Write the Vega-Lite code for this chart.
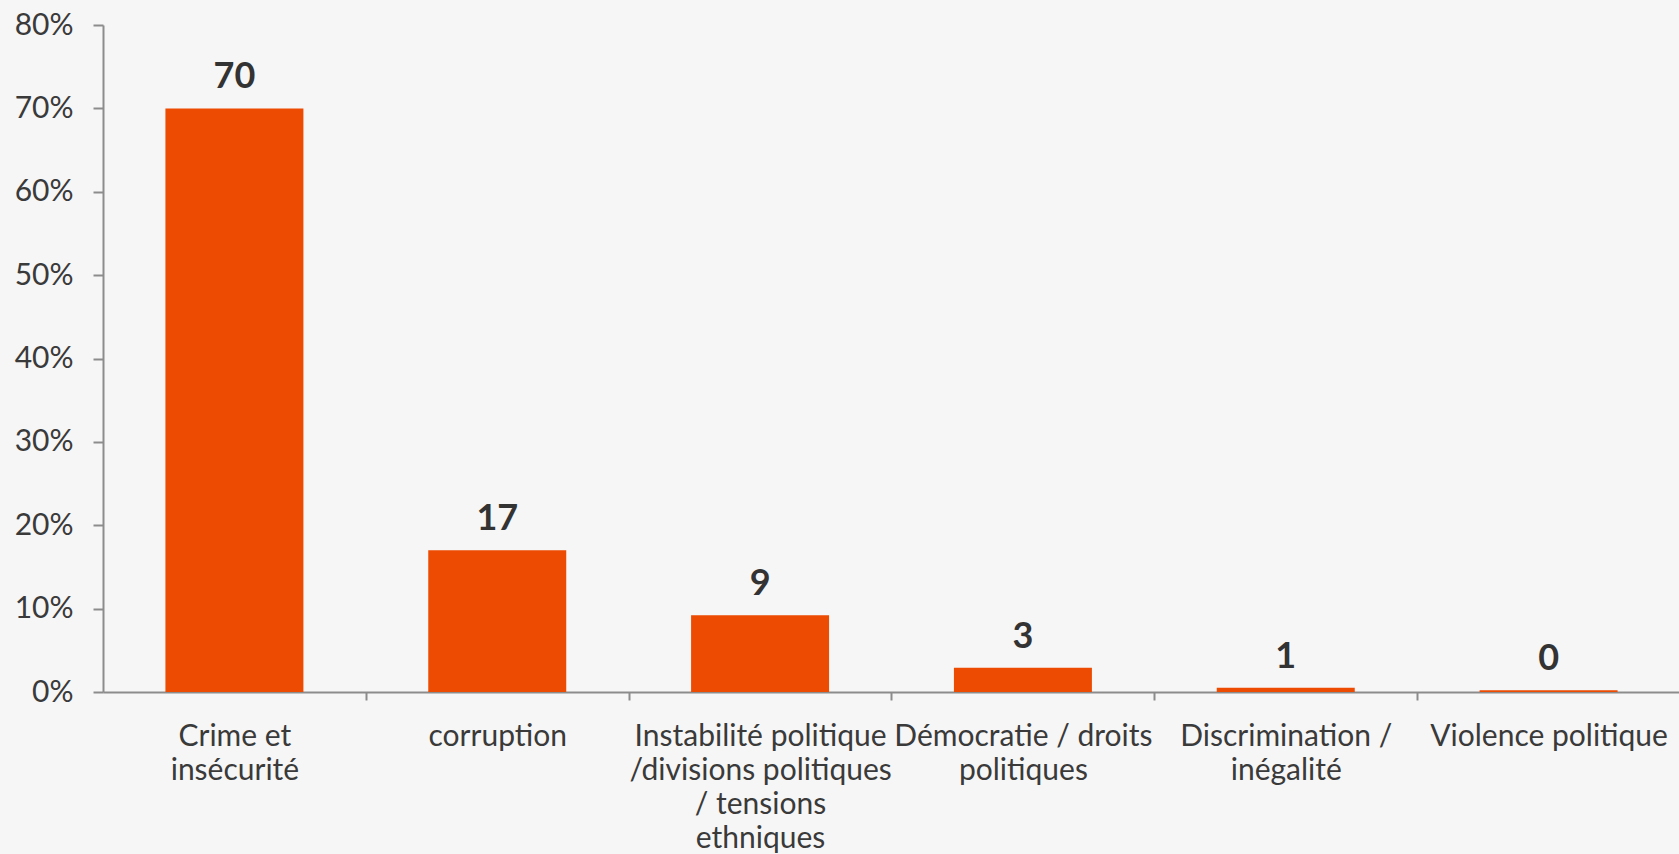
{
  "$schema": "https://vega.github.io/schema/vega-lite/v6.json",
  "width": 1577,
  "height": 667,
  "autosize": {"type": "none"},
  "padding": {"left": 103, "top": 25, "right": 0, "bottom": 162},
  "background": "#f6f6f6",
  "config": {
    "view": {"stroke": null},
    "font": "Lato"
  },
  "data": {
    "values": [
      {"cat": "Crime  et|insécurité", "value": 70, "label": "70"},
      {"cat": "corruption", "value": 17, "label": "17"},
      {"cat": "Instabilité politique|/divisions politiques|/ tensions|ethniques", "value": 9.2, "label": "9"},
      {"cat": "Démocratie / droits|politiques", "value": 2.9, "label": "3"},
      {"cat": "Discrimination /|inégalité", "value": 0.5, "label": "1"},
      {"cat": "Violence politique", "value": 0.2, "label": "0"}
    ]
  },
  "encoding": {
    "x": {
      "field": "cat",
      "type": "nominal",
      "sort": null,
      "scale": {"paddingInner": 0.475, "paddingOuter": 0.2375},
      "axis": {
        "title": null,
        "labelAngle": 0,
        "labelExpr": "split(datum.label, '|')",
        "labelFont": "Lato",
        "labelFontSize": 30,
        "labelColor": "#3a3a3a",
        "labelLineHeight": 34,
        "labelPadding": 21,
        "labelBaseline": "top",
        "domainColor": "#8c8c8c",
        "domainWidth": 2,
        "tickColor": "#8c8c8c",
        "tickWidth": 2,
        "tickSize": 8,
        "tickOffset": 131.4,
        "labelOffset": -131.4,
        "labelLimit": 400
      }
    },
    "y": {
      "field": "value",
      "type": "quantitative",
      "scale": {"domain": [0, 80], "nice": false},
      "axis": {
        "title": null,
        "values": [0, 10, 20, 30, 40, 50, 60, 70, 80],
        "labelExpr": "datum.value + '%'",
        "labelFont": "Lato",
        "labelFontSize": 30,
        "labelColor": "#3a3a3a",
        "labelPadding": 20,
        "grid": false,
        "domainColor": "#8c8c8c",
        "domainWidth": 2,
        "tickColor": "#8c8c8c",
        "tickWidth": 2,
        "tickSize": 10
      }
    }
  },
  "layer": [
    {"mark": {"type": "bar", "color": "#ED4A02"}},
    {
      "mark": {"type": "text", "baseline": "alphabetic", "dy": -20, "fontSize": 36, "fontWeight": "bold", "color": "#333333", "font": "Lato"},
      "encoding": {"text": {"field": "label"}}
    }
  ]
}
